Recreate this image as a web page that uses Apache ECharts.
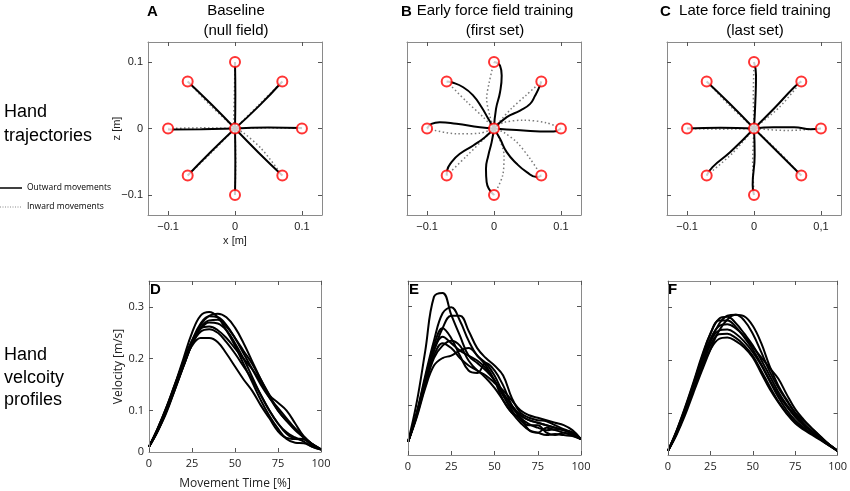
<!DOCTYPE html>
<html><head><meta charset="utf-8">
<script src="https://cdn.jsdelivr.net/npm/echarts@6/dist/echarts.min.js"></script>
<style>html,body{margin:0;padding:0;background:#fff}#c{width:850px;height:491px}</style>
</head><body><div id="c"></div>
<script>
// ---------- DATA ----------
const panelLetters = ['A','B','C','D','E','F'];
const panelTitles = [['Baseline','(null field)'],['Early force field training','(first set)'],['Late force field training','(last set)']];
const rowLabels = [['Hand','trajectories'],['Hand','velcoity','profiles']];
const legendLabels = ['Outward movements','Inward movements'];

// targets (x, z) in metres, including start point
const targets = [[0,0],[0,0.1],[0.0707,0.0707],[0.1,0],[0.0707,-0.0707],[0,-0.1],[-0.0707,-0.0707],[-0.1,0],[-0.0707,0.0707]];

// Panel A: baseline
const outA = [
  [[0,0],[0.0005,0.05],[0,0.1]],
  [[0,0],[0.036,0.034],[0.0707,0.0707]],
  [[0,0],[0.05,0.0015],[0.1,0.0008]],
  [[0,0],[0.035,-0.036],[0.0707,-0.0707]],
  [[0,0],[0.0005,-0.05],[0,-0.1]],
  [[0,0],[-0.036,-0.035],[-0.0707,-0.0707]],
  [[0,0],[-0.05,-0.001],[-0.1,-0.0015]],
  [[0,0],[-0.035,0.036],[-0.0707,0.0707]]
];
const inA = [
  [[0,0.1],[-0.001,0.05],[-0.002,0.01],[0,0]],
  [[0.0707,0.0707],[0.035,0.035],[0,0]],
  [[0.1,0],[0.05,0.001],[0,0]],
  [[0.0707,-0.0707],[0.04,-0.031],[0.012,-0.006],[0,0]],
  [[0,-0.1],[0.001,-0.05],[0,0]],
  [[-0.0707,-0.0707],[-0.035,-0.036],[0,0]],
  [[-0.1,0],[-0.05,0.001],[0,0]],
  [[-0.0707,0.0707],[-0.037,0.035],[0,0]]
];
// Panel B: early force field
const outB = [
  [[0,0],[0.003,0.0295],[0.009,0.0545],[0.0115,0.0795],[0.009,0.0945],[0,0.1]],
  [[0,0],[0.019,0.017],[0.039,0.027],[0.054,0.037],[0.0615,0.0495],[0.0665,0.0595],[0.0707,0.0707]],
  [[0,0],[0.019,-0.0015],[0.044,-0.003],[0.069,-0.0045],[0.089,-0.0045],[0.1,0]],
  [[0,0],[0.009,-0.0155],[0.019,-0.0355],[0.034,-0.053],[0.049,-0.0655],[0.064,-0.073],[0.0707,-0.0707]],
  [[0,0],[-0.0035,-0.0205],[-0.0085,-0.0405],[-0.012,-0.0605],[-0.011,-0.0805],[0,-0.1]],
  [[0,0],[-0.0135,-0.013],[-0.031,-0.0255],[-0.051,-0.038],[-0.0635,-0.0505],[-0.07,-0.063],[-0.0707,-0.0707]],
  [[0,0],[-0.021,0.002],[-0.056,0.007],[-0.081,0.0095],[-0.0935,0.007],[-0.1,0]],
  [[0,0],[-0.0085,0.0145],[-0.0185,0.032],[-0.031,0.0495],[-0.046,0.062],[-0.0635,0.0695],[-0.0707,0.0707]]
];
const inB = [
  [[0,0.1],[-0.007,0.07],[-0.011,0.045],[-0.006,0.018],[0,0]],
  [[0.0707,0.0707],[0.048,0.05],[0.026,0.03],[0.008,0.01],[0,0]],
  [[0.1,0],[0.079,0.0085],[0.044,0.0125],[0.014,0.009],[0,0]],
  [[0.0707,-0.0707],[0.054,-0.0455],[0.034,-0.0205],[0.014,-0.0055],[0,0]],
  [[0,-0.1],[0.013,-0.0705],[0.015,-0.0405],[0.008,-0.0155],[0,0]],
  [[-0.0707,-0.0707],[-0.041,-0.0415],[-0.016,-0.0165],[0,0]],
  [[-0.1,0],[-0.056,-0.008],[-0.021,-0.007],[0,0]],
  [[-0.0707,0.0707],[-0.041,0.0405],[-0.016,0.017],[0,0]]
];
// Panel C: late force field
const outC = [
  [[0,0],[0.002,0.04],[0.003,0.08],[0,0.1]],
  [[0,0],[0.03,0.03],[0.06,0.062],[0.0707,0.0707]],
  [[0,0],[0.03,0.002],[0.06,0.002],[0.085,-0.001],[0.1,0]],
  [[0,0],[0.035,-0.035],[0.0707,-0.0707]],
  [[0,0],[0.001,-0.04],[-0.002,-0.085],[0,-0.1]],
  [[0,0],[-0.035,-0.035],[-0.062,-0.058],[-0.0707,-0.0707]],
  [[0,0],[-0.05,0.001],[-0.1,0]],
  [[0,0],[-0.035,0.036],[-0.0707,0.0707]]
];
const inC = [
  [[0,0.1],[-0.001,0.05],[0,0]],
  [[0.0707,0.0707],[0.038,0.032],[0,0]],
  [[0.1,0],[0.05,-0.003],[0,0]],
  [[0.0707,-0.0707],[0.036,-0.034],[0,0]],
  [[0,-0.1],[-0.002,-0.05],[0,0]],
  [[-0.0707,-0.0707],[-0.032,-0.037],[0,0]],
  [[-0.1,0],[-0.05,-0.001],[0,0]],
  [[-0.0707,0.0707],[-0.036,0.034],[0,0]]
];

const trajTicks = [-0.1, 0, 0.1];
const trajTickLabelsA = ['\u22120.1','0','0.1'];
const trajTickLabelsC = ['\u22120.1','0','0,1'];

// Velocity profiles: movement time (%) and velocity (m/s)
const movementTime = [0,5,10,15,20,25,30,35,40,45,50,55,60,65,70,75,80,85,90,95,100];
const velD = [
  [0.03,0.065,0.105,0.15,0.2,0.25,0.283,0.29,0.28,0.255,0.225,0.19,0.155,0.12,0.09,0.065,0.045,0.038,0.037,0.03,0.025],
  [0.03,0.06,0.095,0.14,0.185,0.23,0.265,0.283,0.287,0.28,0.26,0.23,0.195,0.16,0.13,0.1,0.08,0.065,0.05,0.035,0.025],
  [0.03,0.062,0.1,0.145,0.19,0.235,0.268,0.282,0.28,0.265,0.24,0.21,0.18,0.15,0.125,0.105,0.085,0.065,0.048,0.032,0.025],
  [0.03,0.06,0.098,0.14,0.185,0.228,0.26,0.274,0.275,0.262,0.24,0.215,0.19,0.16,0.13,0.115,0.1,0.075,0.05,0.035,0.025],
  [0.03,0.064,0.103,0.148,0.195,0.235,0.258,0.262,0.255,0.24,0.22,0.2,0.18,0.155,0.125,0.1,0.08,0.062,0.048,0.034,0.025],
  [0.03,0.063,0.102,0.146,0.19,0.228,0.252,0.257,0.25,0.232,0.21,0.185,0.16,0.13,0.1,0.075,0.058,0.048,0.04,0.03,0.025],
  [0.03,0.06,0.098,0.142,0.186,0.228,0.258,0.27,0.268,0.255,0.23,0.2,0.165,0.13,0.1,0.075,0.055,0.046,0.045,0.035,0.025],
  [0.03,0.065,0.105,0.15,0.192,0.225,0.24,0.24,0.232,0.21,0.185,0.16,0.138,0.11,0.085,0.06,0.047,0.045,0.044,0.035,0.025]
];
const velE = [
  [0.026,0.105,0.21,0.318,0.326,0.282,0.24,0.2,0.185,0.17,0.15,0.12,0.095,0.08,0.07,0.065,0.06,0.055,0.05,0.045,0.032],
  [0.026,0.085,0.16,0.23,0.285,0.297,0.27,0.23,0.2,0.185,0.16,0.125,0.1,0.08,0.07,0.065,0.06,0.055,0.05,0.045,0.032],
  [0.026,0.08,0.15,0.21,0.255,0.28,0.28,0.25,0.215,0.195,0.18,0.16,0.115,0.085,0.075,0.07,0.068,0.06,0.052,0.045,0.032],
  [0.026,0.083,0.155,0.22,0.255,0.235,0.2,0.17,0.165,0.185,0.17,0.14,0.1,0.075,0.062,0.055,0.05,0.052,0.05,0.042,0.032],
  [0.026,0.082,0.15,0.21,0.238,0.225,0.21,0.2,0.19,0.175,0.15,0.12,0.09,0.07,0.06,0.06,0.045,0.04,0.045,0.04,0.032],
  [0.026,0.075,0.135,0.18,0.195,0.2,0.21,0.215,0.2,0.18,0.15,0.11,0.085,0.075,0.05,0.045,0.055,0.05,0.045,0.04,0.032],
  [0.026,0.08,0.145,0.2,0.225,0.215,0.195,0.18,0.17,0.155,0.135,0.11,0.085,0.065,0.05,0.045,0.04,0.042,0.04,0.038,0.032],
  [0.026,0.078,0.14,0.195,0.22,0.23,0.22,0.19,0.17,0.16,0.145,0.13,0.11,0.09,0.08,0.075,0.07,0.065,0.06,0.05,0.032]
];
const velF = [
  [0.028,0.06,0.1,0.145,0.19,0.235,0.268,0.284,0.286,0.275,0.25,0.215,0.178,0.148,0.123,0.1,0.085,0.07,0.055,0.04,0.028],
  [0.028,0.065,0.108,0.155,0.205,0.25,0.278,0.282,0.27,0.25,0.228,0.2,0.17,0.14,0.115,0.095,0.078,0.064,0.05,0.038,0.028],
  [0.028,0.066,0.11,0.158,0.208,0.25,0.275,0.275,0.263,0.243,0.22,0.192,0.162,0.135,0.112,0.092,0.076,0.064,0.052,0.04,0.028],
  [0.028,0.064,0.105,0.152,0.2,0.24,0.264,0.268,0.26,0.245,0.225,0.205,0.185,0.165,0.135,0.107,0.087,0.07,0.054,0.04,0.028],
  [0.028,0.063,0.104,0.15,0.196,0.235,0.256,0.258,0.25,0.235,0.215,0.19,0.16,0.13,0.105,0.086,0.072,0.06,0.05,0.038,0.028],
  [0.028,0.062,0.102,0.146,0.19,0.228,0.249,0.25,0.242,0.228,0.208,0.18,0.15,0.122,0.1,0.082,0.07,0.06,0.05,0.04,0.028],
  [0.028,0.06,0.1,0.143,0.185,0.22,0.24,0.243,0.236,0.224,0.205,0.175,0.145,0.12,0.098,0.08,0.068,0.058,0.048,0.038,0.028],
  [0.028,0.058,0.095,0.138,0.18,0.22,0.255,0.277,0.286,0.283,0.265,0.232,0.188,0.152,0.125,0.1,0.08,0.065,0.052,0.04,0.028]
];
const timeTicks = [0,25,50,75,100];
const velTicks = [0.1,0.2,0.3];
const velLabelValuesD = [0.02,0.1,0.2,0.3];
const velLabelTextD = ['0','0.1','0.2','0.3'];

// ---------- LAYOUT ----------
const FONT = 'Liberation Sans, Arial, sans-serif';
const FONT2 = 'Open Sans, Liberation Sans, sans-serif';
const gridPos = [
  {left:148, top:42, width:174, height:173},
  {left:407, top:42, width:174, height:173},
  {left:667, top:42, width:174, height:173},
  {left:149, top:281, width:172, height:174},
  {left:408, top:281, width:173, height:174},
  {left:668, top:281, width:173, height:174}
];

const grid = gridPos.map(g => Object.assign({show:false}, g));
const xAxis = [], yAxis = [], series = [];
const BOX = '#8a8a8a';
const axLine = {show:true, onZero:false, lineStyle:{color:BOX, width:1}};
const tickStyle = {show:true, inside:true, length:4, lineStyle:{color:'#555', width:1}};

gridPos.forEach((g, i) => {
  const top = i < 3;
  const range = top ? {min:-0.13, max:0.13} : {min:0, max:100};
  const ticks = top ? trajTicks : timeTicks;
  let xLabel;
  if (top) {
    const lbl = i === 2 ? trajTickLabelsC : trajTickLabelsA;
    xLabel = {show:true, customValues:trajTicks, formatter:v => lbl[trajTicks.findIndex(t => Math.abs(t - v) < 1e-9)], fontFamily:FONT, fontSize:11, color:'#222', margin:6};
  } else {
    xLabel = {show:true, customValues:timeTicks, fontFamily:FONT2, fontSize:11, color:'#222', margin:6};
  }
  xAxis.push(Object.assign({type:'value', gridIndex:i, position:'bottom', z:5, axisLine:axLine, splitLine:{show:false},
    axisTick:Object.assign({customValues:ticks}, tickStyle), axisLabel:xLabel}, range,
    i === 0 ? {name:'x [m]', nameLocation:'middle', nameGap:20, nameTextStyle:{fontFamily:FONT, fontSize:11, color:'#222'}} : {},
    i === 3 ? {name:'Movement Time [%]', nameLocation:'middle', nameGap:26, nameTextStyle:{fontFamily:FONT2, fontSize:12, color:'#222'}} : {}));
  xAxis.push(Object.assign({type:'value', gridIndex:i, position:'top', z:5, axisLine:axLine, splitLine:{show:false},
    axisTick:Object.assign({customValues:ticks}, tickStyle), axisLabel:{show:false}}, range));

  let yRange, yTicks, yLabel = {show:false};
  if (top) { yRange = {min:-0.13, max:0.13}; yTicks = trajTicks; }
  else if (i === 4) { yRange = {min:0, max:0.35}; yTicks = velTicks; }
  else { yRange = {min:0.02, max:0.35}; yTicks = velTicks; }
  if (i === 0) yLabel = {show:true, customValues:trajTicks, formatter:v => trajTickLabelsA[trajTicks.findIndex(t => Math.abs(t - v) < 1e-9)], fontFamily:FONT, fontSize:11, color:'#222', margin:5};
  if (i === 3) yLabel = {show:true, customValues:velLabelValuesD, formatter:v => velLabelTextD[velLabelValuesD.findIndex(t => Math.abs(t - v) < 1e-9)], fontFamily:FONT2, fontSize:11, color:'#222', margin:5};
  yAxis.push(Object.assign({type:'value', gridIndex:i, position:'left', z:5, axisLine:axLine, splitLine:{show:false},
    axisTick:Object.assign({customValues:yTicks}, tickStyle), axisLabel:yLabel}, yRange,
    i === 0 ? {name:'z [m]', nameLocation:'middle', nameGap:26, nameMoveOverlap:false, nameTextStyle:{fontFamily:FONT, fontSize:11, color:'#222'}} : {},
    i === 3 ? {name:'Velocity [m/s]', nameLocation:'middle', nameGap:23, nameTextStyle:{fontFamily:FONT2, fontSize:12, color:'#222'}} : {}));
  yAxis.push(Object.assign({type:'value', gridIndex:i, position:'right', z:5, axisLine:axLine, splitLine:{show:false},
    axisTick:Object.assign({customValues:yTicks}, tickStyle), axisLabel:{show:false}}, yRange));
});

const trajSets = [[outA, inA], [outB, inB], [outC, inC]];
trajSets.forEach(([outs, ins], p) => {
  ins.forEach(path => series.push({type:'line', xAxisIndex:2*p, yAxisIndex:2*p, data:path, smooth:0.3, showSymbol:false, symbol:'none', silent:true, z:2,
    lineStyle:{color:'#7a7a7a', width:1.5, type:[1.5,2.5]}}));
  outs.forEach(path => series.push({type:'line', xAxisIndex:2*p, yAxisIndex:2*p, data:path, smooth:0.5, showSymbol:false, symbol:'none', silent:true, z:3,
    lineStyle:{color:'#000', width:2}}));
  series.push({type:'scatter', xAxisIndex:2*p, yAxisIndex:2*p, data:targets, symbol:'circle', symbolSize:10, z:6, silent:true,
    itemStyle:{color:'#fff', borderColor:'#ff0000', borderWidth:2}});
});
[velD, velE, velF].forEach((set, k) => {
  const gi = 3 + k;
  set.forEach(v => series.push({type:'line', xAxisIndex:2*gi, yAxisIndex:2*gi, data:movementTime.map((t, j) => [t, v[j]]),
    smooth:0.4, showSymbol:false, symbol:'none', silent:true, z:3, lineStyle:{color:'#000', width:2}}));
});

// ---------- TEXT ----------
function txt(x, y, text, font, align) {
  return {type:'text', x:x, y:y, silent:true, z:100,
    style:{text:text, font:font, fill:'#000', textAlign:align || 'left', align:align || 'left', textVerticalAlign:'middle', verticalAlign:'middle'}};
}
const graphic = [];
const letterPos = [[147,12],[401,12],[660,12],[150,290],[409,290],[668,290]];
panelLetters.forEach((L, i) => graphic.push(txt(letterPos[i][0], letterPos[i][1], L, 'bold 15px ' + FONT, 'left')));
panelTitles.forEach((t, i) => {
  const cx = gridPos[i].left + gridPos[i].width / 2 + 1;
  graphic.push(txt(cx, 11, t[0], '15px ' + FONT, 'center'));
  graphic.push(txt(cx, 31, t[1], '15px ' + FONT, 'center'));
});
graphic.push(txt(4, 112, rowLabels[0][0], '18px ' + FONT));
graphic.push(txt(4, 136, rowLabels[0][1], '18px ' + FONT));
graphic.push(txt(4, 355, rowLabels[1][0], '18px ' + FONT));
graphic.push(txt(4, 378, rowLabels[1][1], '18px ' + FONT));
graphic.push(txt(4, 400, rowLabels[1][2], '18px ' + FONT));
graphic.push({type:'line', silent:true, shape:{x1:0, y1:188, x2:22, y2:188}, style:{stroke:'#000', lineWidth:1.5}});
graphic.push({type:'line', silent:true, shape:{x1:0, y1:207, x2:22, y2:207}, style:{stroke:'#888', lineWidth:1, lineDash:[1,1.5]}});
graphic.push(txt(27, 188, legendLabels[0], '8.5px ' + FONT2));
graphic.push(txt(27, 207, legendLabels[1], '8.5px ' + FONT2));

const chart = echarts.init(document.getElementById('c'), null, {renderer:'canvas'});
chart.setOption({animation:false, backgroundColor:'#fff', grid, xAxis, yAxis, series, graphic});
</script></body></html>
